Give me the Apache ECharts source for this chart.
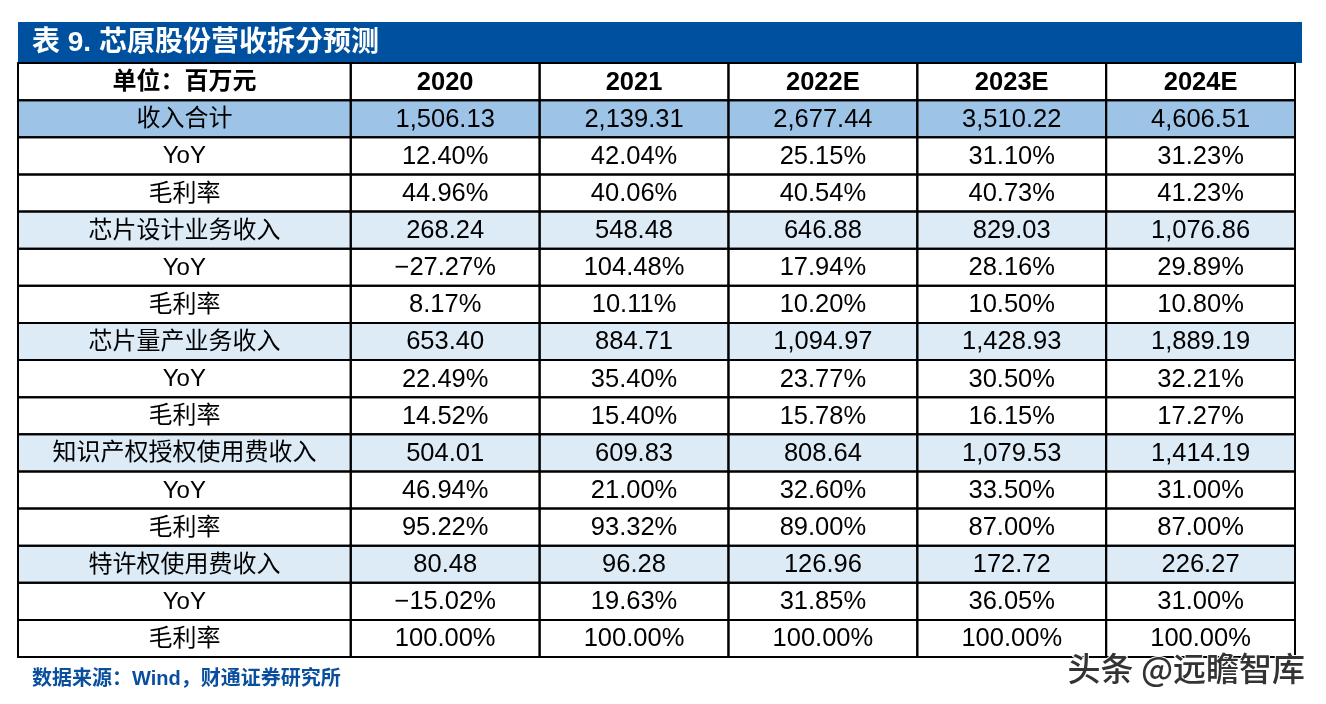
<!DOCTYPE html>
<html>
<head>
<meta charset="utf-8">
<script src="https://cdn.jsdelivr.net/npm/echarts@6/dist/echarts.min.js"></script>
<style>
html,body{margin:0;padding:0;background:#fff;}
#main{width:1326px;height:704px;}
</style>
</head>
<body>
<div id="main"></div>
<script>
// ---- data ----
const headerLabels = ['单位：百万元', '2020', '2021', '2022E', '2023E', '2024E'];
const rowLabels = ['收入合计', 'YoY', '毛利率',
  '芯片设计业务收入', 'YoY', '毛利率',
  '芯片量产业务收入', 'YoY', '毛利率',
  '知识产权授权使用费收入', 'YoY', '毛利率',
  '特许权使用费收入', 'YoY', '毛利率'];
// row kind: 'total' | 'seg' (revenue amount rows) | 'pct'
const rowKinds = ['total', 'pct', 'pct', 'seg', 'pct', 'pct', 'seg', 'pct', 'pct', 'seg', 'pct', 'pct', 'seg', 'pct', 'pct'];

const totalRevenue   = [1506.13, 2139.31, 2677.44, 3510.22, 4606.51];
const totalYoY       = [12.40, 42.04, 25.15, 31.10, 31.23];
const totalMargin    = [44.96, 40.06, 40.54, 40.73, 41.23];
const designRevenue  = [268.24, 548.48, 646.88, 829.03, 1076.86];
const designYoY      = [-27.27, 104.48, 17.94, 28.16, 29.89];
const designMargin   = [8.17, 10.11, 10.20, 10.50, 10.80];
const massRevenue    = [653.40, 884.71, 1094.97, 1428.93, 1889.19];
const massYoY        = [22.49, 35.40, 23.77, 30.50, 32.21];
const massMargin     = [14.52, 15.40, 15.78, 16.15, 17.27];
const ipRevenue      = [504.01, 609.83, 808.64, 1079.53, 1414.19];
const ipYoY          = [46.94, 21.00, 32.60, 33.50, 31.00];
const ipMargin       = [95.22, 93.32, 89.00, 87.00, 87.00];
const royaltyRevenue = [80.48, 96.28, 126.96, 172.72, 226.27];
const royaltyYoY     = [-15.02, 19.63, 31.85, 36.05, 31.00];
const royaltyMargin  = [100.00, 100.00, 100.00, 100.00, 100.00];

const rowValues = [totalRevenue, totalYoY, totalMargin,
  designRevenue, designYoY, designMargin,
  massRevenue, massYoY, massMargin,
  ipRevenue, ipYoY, ipMargin,
  royaltyRevenue, royaltyYoY, royaltyMargin];

const titleText = '表 9. 芯原股份营收拆分预测';
const sourceText = '数据来源：Wind，财通证券研究所';
const watermarkText = '头条 @远瞻智库';

// ---- layout (column spans in axis units) ----
const colSpan = [1.762, 1, 1, 1, 1, 1];
const colStart = [];
colSpan.reduce((acc, w, i) => { colStart[i] = acc; return acc + w; }, 0);
const xMax = colSpan.reduce((a, b) => a + b, 0);

function fmtNum(v) {
  const s = Math.abs(v).toFixed(2);
  const parts = s.split('.');
  parts[0] = parts[0].replace(/\B(?=(\d{3})+(?!\d))/g, ',');
  return (v < 0 ? '\u2212' : '') + parts.join('.');
}
function fmtPct(v) {
  return (v < 0 ? '\u2212' : '') + Math.abs(v).toFixed(2) + '%';
}

const yCats = ['header'].concat(rowLabels.map((r, i) => 'r' + i));

// cells: [col, row, text, kind, bold]
const cells = [];
headerLabels.forEach((h, c) => cells.push([c, 0, h, 'header', 1]));
rowLabels.forEach((lab, r) => {
  const kind = rowKinds[r];
  cells.push([0, r + 1, lab, kind, 0]);
  rowValues[r].forEach((v, c) => {
    cells.push([c + 1, r + 1, kind === 'pct' ? fmtPct(v) : fmtNum(v), kind, 0]);
  });
});

const fills = { header: '#ffffff', total: '#9dc3e6', seg: '#ddebf7', pct: '#ffffff' };
const FONT = '"Liberation Sans", Arial, "Noto Sans CJK SC", sans-serif';

const chart = echarts.init(document.getElementById('main'), null, { renderer: 'canvas' });
chart.setOption({
  backgroundColor: '#ffffff',
  animation: false,
  title: [{
    text: titleText,
    left: 32, top: 43,
    textVerticalAlign: 'middle',
    padding: 0,
    textStyle: { color: '#ffffff', fontSize: 28, fontWeight: 'bold', fontFamily: FONT }
  }, {
    text: sourceText,
    left: 32, top: 679,
    textVerticalAlign: 'middle',
    padding: 0,
    textStyle: { color: '#0a4f9e', fontSize: 20, fontWeight: 'bold', fontFamily: FONT }
  }],
  graphic: [{
    type: 'rect', z: -1,
    shape: { x: 18, y: 22, width: 1284, height: 41 },
    style: { fill: '#0050a0' }
  }, {
    type: 'text', z: 100,
    style: {
      text: watermarkText, x: 1305, y: 668, align: 'right', verticalAlign: 'middle',
      fill: '#333333', font: '500 33px "Noto Sans CJK SC", sans-serif',
      stroke: '#ffffff', lineWidth: 2
    }
  }],
  grid: { left: 18, top: 63, width: 1277, height: 594 },
  xAxis: { type: 'value', min: 0, max: xMax, show: false },
  yAxis: { type: 'category', data: yCats, inverse: true, show: false },
  series: [{
    type: 'custom',
    clip: false,
    data: cells,
    encode: { x: 0, y: 1 },
    renderItem: function (params, api) {
      const d = cells[params.dataIndex];
      const col = d[0], row = d[1];
      const p0 = api.coord([colStart[col], row]);
      const p1 = api.coord([colStart[col] + colSpan[col], row]);
      const h = api.size([0, 1])[1];
      const x = p0[0], w = p1[0] - p0[0], y = p0[1] - h / 2;
      const size = col === 0 ? 24 : 25.5;
      return {
        type: 'group',
        children: [{
          type: 'rect', z2: 0,
          shape: { x: x, y: y, width: w, height: h },
          style: { fill: fills[d[3]] }
        }, {
          type: 'rect', z2: 10,
          shape: { x: x, y: y, width: w, height: h },
          style: { fill: 'none', stroke: '#000000', lineWidth: 2 }
        }, {
          type: 'text', z2: 20,
          style: {
            text: d[2], x: x + w / 2, y: p0[1] + 1,
            align: 'center', verticalAlign: 'middle',
            fill: '#000000',
            font: (d[4] ? 'bold ' : '') + size + 'px ' + FONT
          }
        }]
      };
    }
  }]
});
</script>
</body>
</html>
